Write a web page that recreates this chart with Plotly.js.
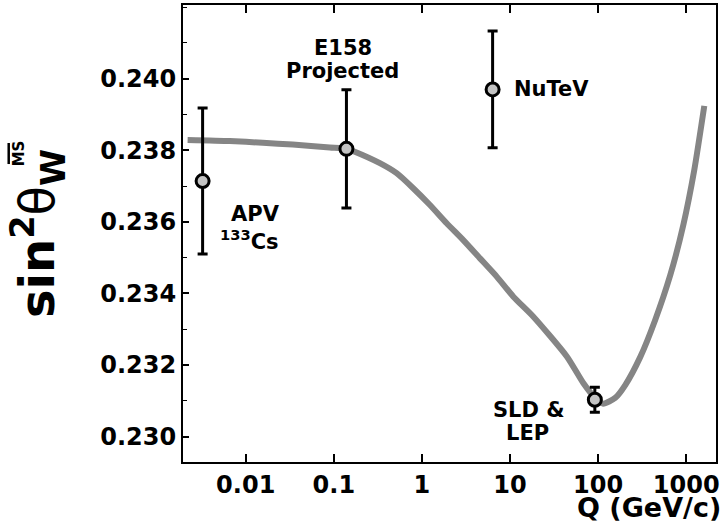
<!DOCTYPE html>
<html>
<head>
<meta charset="utf-8">
<script src="https://cdn.plot.ly/plotly-3.0.1.min.js"></script>
<style>html,body{margin:0;padding:0;background:#fff;}#chart{width:726px;height:523px;}</style>
</head>
<body>
<div id="chart"></div>
<script>
// Running of sin^2 theta_W (MS-bar) vs Q
var qCurve = [0.00219, 0.00658, 0.0156, 0.0342, 0.0901, 0.1406, 0.173, 0.333, 0.516, 0.796, 1.233, 1.909, 2.945, 4.56, 7.06, 10.9, 18.4, 44.1, 68.1, 92.5, 114, 156, 203, 300, 444, 658, 925, 1233, 1602];
var s2wCurve = [0.23829, 0.23826, 0.23821, 0.23816, 0.23808, 0.23804, 0.23796, 0.23764, 0.23736, 0.23694, 0.23647, 0.23596, 0.23549, 0.23498, 0.23447, 0.23391, 0.23335, 0.23224, 0.23149, 0.23108, 0.23092, 0.23108, 0.23144, 0.23222, 0.23326, 0.23451, 0.23591, 0.23745, 0.23924];

var ptNames = ["APV 133Cs", "E158 Projected", "NuTeV", "SLD & LEP"];
var qPts = [0.00324, 0.139, 6.34, 91.7];
var s2wPts = [0.23714, 0.23804, 0.23970, 0.23103];
var errPts = [0.00204, 0.00165, 0.00163, 0.00035];

var labelText = ["E158", "Projected", "NuTeV", "APV", "<sup>133</sup>Cs", "SLD &", "LEP"];
var labelQ = [0.126, 0.126, 10.5, 0.0130, 0.0111, 16.4, 15.6];
var labelS = [0.24086, 0.24021, 0.23970, 0.23622, 0.23549, 0.23075, 0.23010];
var labelAnchor = ["center", "center", "left", "center", "center", "center", "center"];

var xTickVals = [0.01, 0.1, 1, 10, 100, 1000];
var xTickText = ["0.01", "0.1", "1", "10", "100", "1000"];
var yTickVals = [0.230, 0.232, 0.234, 0.236, 0.238, 0.240];
var yTickText = ["0.230", "0.232", "0.234", "0.236", "0.238", "0.240"];

var xTitle = "Q (GeV/c)";
var FONT = "DejaVu Sans";

var traces = [
  {
    x: qCurve, y: s2wCurve, type: "scatter", mode: "lines",
    line: {color: "#858585", width: 6, shape: "spline", smoothing: 0.6},
    hoverinfo: "skip", showlegend: false
  },
  {
    x: qPts, y: s2wPts, type: "scatter", mode: "markers", text: ptNames,
    error_y: {type: "data", array: errPts, visible: true, color: "#000", thickness: 3, width: 5},
    marker: {symbol: "circle", size: 13, color: "#c3c3c3", line: {color: "#000", width: 3}},
    showlegend: false
  }
];

var annotations = labelText.map(function (t, i) {
  return {
    x: Math.log10(labelQ[i]), y: labelS[i], xref: "x", yref: "y",
    text: "<b>" + t + "</b>", showarrow: false,
    xanchor: labelAnchor[i], yanchor: "middle",
    font: {family: FONT, size: 21, color: "#000"}
  };
});
// x-axis title, right aligned under the axis as in the reference
annotations.push({
  xref: "paper", yref: "paper", x: 1.013, y: -0.0999,
  text: "<b>" + xTitle + "</b>", showarrow: false,
  xanchor: "right", yanchor: "middle",
  font: {family: FONT, size: 27, color: "#000"}
});
// MS superscript of the y title (overline drawn as a shape)
annotations.push({
  xref: "paper", yref: "paper", x: -0.308, y: 0.675,
  text: "<b>MS</b>", textangle: -90, showarrow: false,
  xanchor: "center", yanchor: "middle",
  font: {family: FONT, size: 15, color: "#000"}
});

var layout = {
  width: 726, height: 523,
  margin: {l: 183, r: 10, t: 5, b: 61, pad: 0},
  paper_bgcolor: "#fff", plot_bgcolor: "#fff",
  showlegend: false,
  font: {family: FONT, color: "#000"},
  xaxis: {
    type: "log", range: [-2.712, 3.3375],
    tickmode: "array", tickvals: xTickVals, ticktext: xTickText,
    ticks: "inside", ticklen: 8, tickwidth: 2, tickcolor: "#000",
    showline: true, linewidth: 2, linecolor: "#000", mirror: "ticks",
    showgrid: false, zeroline: false,
    tickfont: {family: FONT, size: 24, weight: "bold", color: "#000"}
  },
  yaxis: {
    range: [0.22929, 0.24206],
    tickmode: "array", tickvals: yTickVals, ticktext: yTickText,
    ticks: "inside", ticklen: 6, tickwidth: 2, tickcolor: "#000",
    minor: {dtick: 0.001, tick0: 0.229, ticks: "inside", ticklen: 4, tickwidth: 1, tickcolor: "#000", showgrid: false},
    showline: true, linewidth: 2, linecolor: "#000", mirror: true,
    showgrid: false, zeroline: false,
    tickfont: {family: FONT, size: 24, weight: "bold", color: "#000"},
    title: {text: "<b>sin<sup>2</sup></b>\u03b8<sub><b>W</b></sub>", font: {family: FONT, size: 48, color: "#000"}, standoff: 30}
  },
  yaxis2: {
    overlaying: "y", side: "right", range: [457.3, 0],
    tickmode: "linear", tick0: 19, dtick: 20,
    ticks: "inside", ticklen: 6, tickwidth: 2, tickcolor: "#000",
    showticklabels: false, showline: false, showgrid: false, zeroline: false
  },
  shapes: [
    {type: "line", xref: "paper", yref: "paper", x0: -0.327, x1: -0.327, y0: 0.698, y1: 0.652,
     line: {color: "#000", width: 2.5}}
  ],
  annotations: annotations
};

Plotly.newPlot("chart", traces, layout, {displayModeBar: false, staticPlot: true});
</script>
</body>
</html>
